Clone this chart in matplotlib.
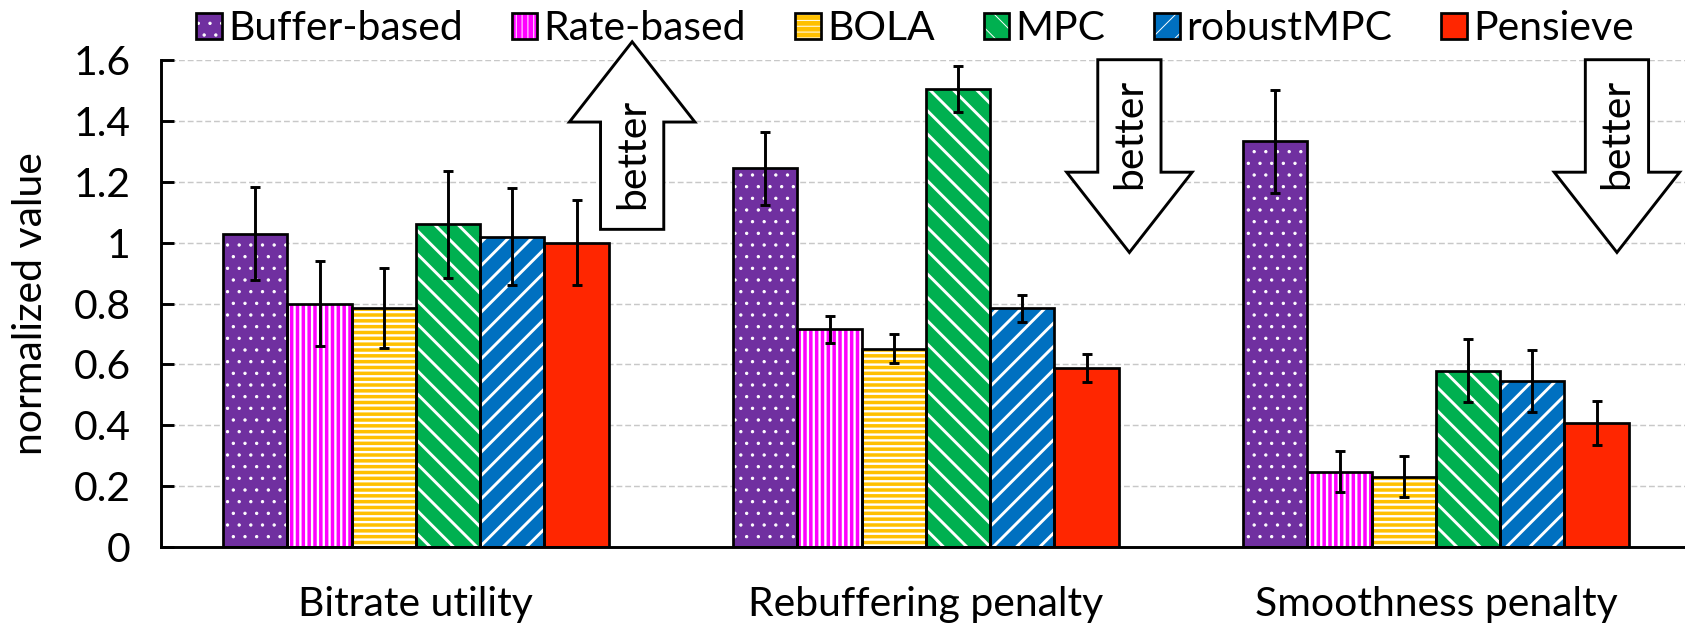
import matplotlib
matplotlib.use('Agg')
import matplotlib.pyplot as plt
from matplotlib.patches import FancyArrow
import numpy as np

# ---------------- data ----------------
categories = ['Bitrate utility', 'Rebuffering penalty', 'Smoothness penalty']
series_names = ['Buffer-based', 'Rate-based', 'BOLA', 'MPC', 'robustMPC', 'Pensieve']

buffer_based = [1.03, 1.245, 1.333]
buffer_based_err = [0.152, 0.12, 0.17]
rate_based = [0.80, 0.715, 0.247]
rate_based_err = [0.14, 0.045, 0.068]
bola = [0.785, 0.652, 0.23]
bola_err = [0.132, 0.047, 0.067]
mpc = [1.06, 1.505, 0.579]
mpc_err = [0.177, 0.076, 0.103]
robust_mpc = [1.02, 0.784, 0.544]
robust_mpc_err = [0.16, 0.045, 0.102]
pensieve = [1.0, 0.588, 0.407]
pensieve_err = [0.14, 0.047, 0.072]

y_ticks = [0, 0.2, 0.4, 0.6, 0.8, 1.0, 1.2, 1.4, 1.6]
y_tick_labels = ['0', '0.2', '0.4', '0.6', '0.8', '1', '1.2', '1.4', '1.6']

# "better" arrow annotations: (category position, start y, end y)
arrow_x = [0.424, 1.399, 2.355]
arrow_start = [1.044, 1.602, 1.602]
arrow_end = [1.661, 0.968, 0.968]
arrow_text_y = [1.292, 1.358, 1.358]

# ---------------- style ----------------
colors = ['#7030A0', '#FF00FF', '#FFC000', '#00B050', '#0070C0', '#FF2600']
hatches = ['.', '||', '--', '\\', '/', None]
hatch_lws = [1.0, 2.4, 2.4, 3.0, 3.0, 1.0]

DPI = 70
FS = 42
plt.rcParams['font.family'] = ['Lato', 'DejaVu Sans']

fig = plt.figure(figsize=(1685 / DPI, 629 / DPI), dpi=DPI)
ax = fig.add_axes([0.0955, 0.1308, 0.908, 0.7733])

values = [buffer_based, rate_based, bola, mpc, robust_mpc, pensieve]
errors = [buffer_based_err, rate_based_err, bola_err, mpc_err, robust_mpc_err, pensieve_err]

x = np.arange(len(categories))
w = 0.126
handles = []
for i, (vals, errs, c, h, hlw) in enumerate(zip(values, errors, colors,
                                                 hatches, hatch_lws)):
    pos = x + (i - 2.5) * w
    with plt.rc_context({'hatch.linewidth': hlw}):
        fill = ax.bar(pos, vals, w, color=c,
                      edgecolor='white' if h else c, linewidth=0,
                      hatch=h, zorder=2)
    edge = ax.bar(pos, vals, w, fill=False, edgecolor='black',
                  linewidth=2.8, zorder=3)
    ax.errorbar(pos, vals, yerr=errs, fmt='none', ecolor='black',
                elinewidth=3, capsize=5, capthick=3, zorder=4)
    handles.append((fill, edge))

ax.set_xlim(-0.5, 2.5)
ax.set_ylim(0, 1.6)
ax.set_yticks(y_ticks)
ax.set_yticklabels(y_tick_labels)
ax.set_xticks(x)
ax.set_xticklabels(categories)
ax.tick_params(axis='y', direction='in', length=13, width=3, pad=31,
               labelsize=FS)
ax.tick_params(axis='x', length=0, pad=40, labelsize=FS)

for s in ['top', 'right']:
    ax.spines[s].set_visible(False)
for s in ['left', 'bottom']:
    ax.spines[s].set_linewidth(3)
    ax.spines[s].set_zorder(6)

ax.yaxis.grid(True, color='#c8c8c8', linestyle=(0, (4, 2)), linewidth=1.5,
              zorder=0)
ax.set_axisbelow(True)

ax.set_ylabel('normalized value', fontsize=FS)
ax.yaxis.set_label_coords(-0.073, 0.5)

# arrows
for ax_x, y0, y1, ty in zip(arrow_x, arrow_start, arrow_end, arrow_text_y):
    arr = FancyArrow(ax_x, y0, 0, y1 - y0, width=0.124, head_width=0.246,
                     head_length=0.264, length_includes_head=True,
                     facecolor='white', edgecolor='black', linewidth=3,
                     zorder=7, clip_on=False)
    ax.add_patch(arr)
    ax.text(ax_x, ty, 'better', rotation=90, ha='center', va='center',
            fontsize=FS, zorder=8)

fig.legend(handles, series_names, loc='center',
           bbox_to_anchor=(0.543, 1 - 29 / 629), ncol=6, frameon=False,
           fontsize=FS, handlelength=0.63, handleheight=0.63,
           handletextpad=0.15, columnspacing=1.2, borderpad=0,
           borderaxespad=0)

fig.savefig('out.png', dpi=DPI)
